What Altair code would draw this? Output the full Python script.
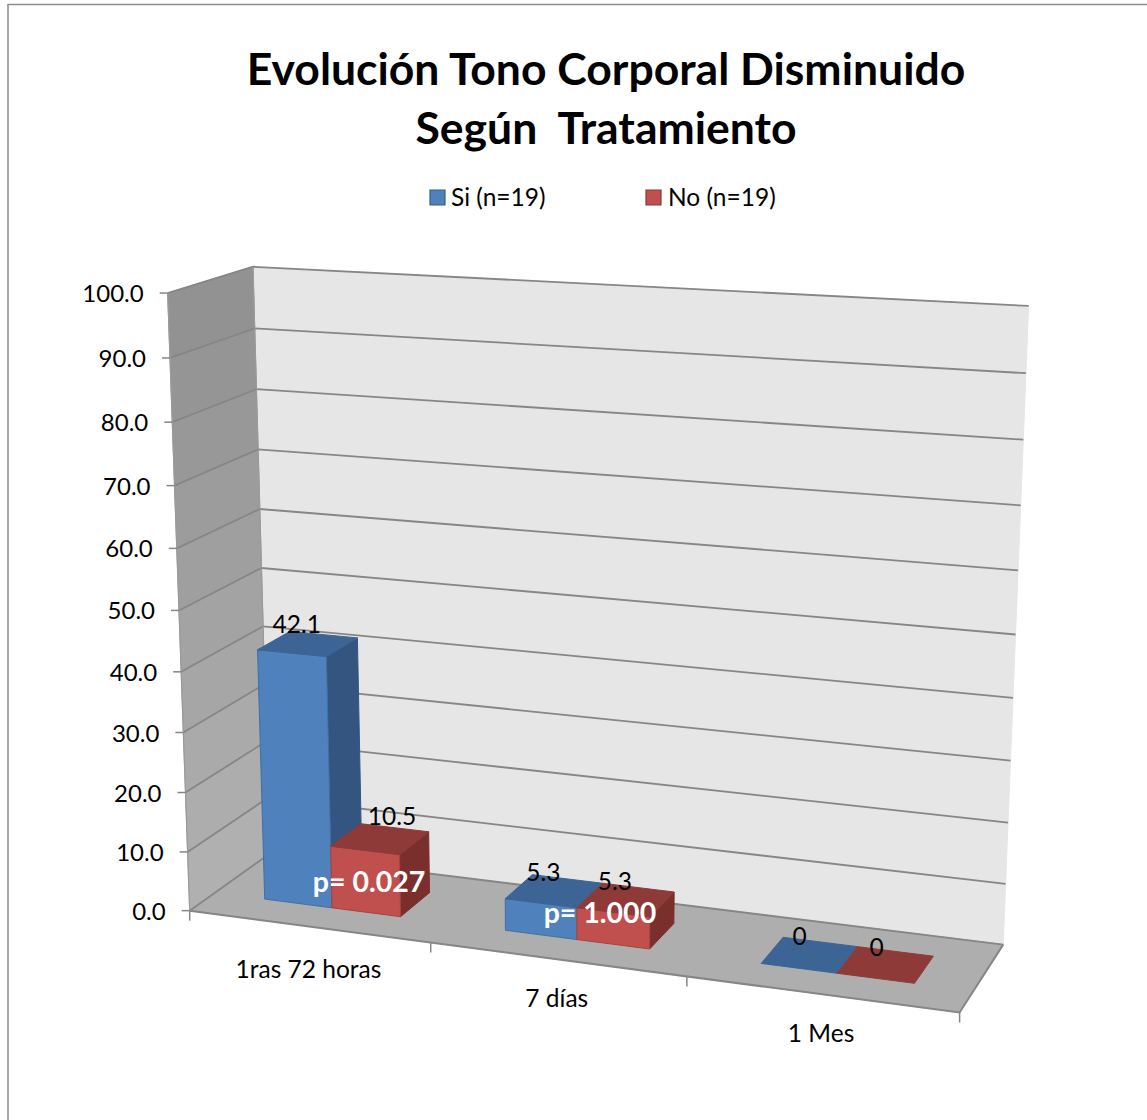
import numpy as np
import pandas as pd
import altair as alt

# Chart content
TITLE_LINES = ["Evolución Tono Corporal Disminuido", "Según\u00a0 Tratamiento"]
CATEGORIES = ["1ras 72 horas", "7 días", "1 Mes"]
SERIES = ["Si (n=19)", "No (n=19)"]
SI_VALUES = [42.1, 5.3, 0]
NO_VALUES = [10.5, 5.3, 0]
SI_LABELS = ["42.1", "5.3", "0"]
NO_LABELS = ["10.5", "5.3", "0"]
P_LABELS = ["p= 0.027", "p= 1.000"]
TICKS = [0, 10, 20, 30, 40, 50, 60, 70, 80, 90, 100]

# Colours
BLUE = dict(front="#4f81bd", top="#3c6494", side="#335580", edge="#41709f", key="#385d8a")
RED = dict(front="#c0504d", top="#8e3a38", side="#7b2f2d", edge="#a8423f", key="#8c3836")
WALL_BACK = "#e6e6e6"
FLOOR = "#aeaeae"
GRID = "#868686"
WALL_TOP_GRAY, WALL_BOTTOM_GRAY = 0x90, 0xb2

# Camera of the 3D box: unit-cube corners and where they land on the page.
# u runs along the categories, v runs front to back, w is value / 100.
CUBE = [(0, 0, 0), (1, 0, 0), (0, 1, 0), (1, 1, 0), (0, 0, 1), (0, 1, 1), (1, 1, 1),
        (0, 0, .5), (0, 1, .5), (1, 1, .5), (1, 1, .9), (1, 1, .1), (0, 1, .9), (0, 0, .1)]
PAGE = [(190.5, 910.5), (959, 1014), (264, 855), (1004, 943), (167, 293), (255.5, 267), (1028, 306),
        (179, 610), (265, 565), (1017, 635), (1026, 374), (1007, 884), (258, 328), (182, 852)]
WEIGHTS = [8, 3, 3, 3, 8, 4, 3, 1, 1, 1, 1, 1, 1, 1]

rows = []
for (a, b, c), (x, y), k in zip(CUBE, PAGE, WEIGHTS):
    rows.append(np.array([a, b, c, 1, 0, 0, 0, 0, -x * a, -x * b, -x * c, -x]) * k)
    rows.append(np.array([0, 0, 0, 0, a, b, c, 1, -y * a, -y * b, -y * c, -y]) * k)
CAMERA = np.linalg.svd(np.array(rows))[2][-1].reshape(3, 4)


def project(u, v, w):
    h = CAMERA @ np.array([u, v, w, 1.0])
    return float(h[0] / h[2]), float(h[1] / h[2])


# Bar layout in cube units: gap width 150 % of a bar, bars in the middle of the depth
BAR_W = (1 / 3) / 3.5
V0, V1 = 0.305, 0.71

polys, lines, texts = [], [], []


def add_poly(name, pts, fill, stroke=None):
    corners = [project(*p) for p in pts]
    for i, (x, y) in enumerate(corners + corners[:1]):
        polys.append(dict(poly=name, i=i, x=x, y=y, fill=fill, stroke=stroke or fill))


def add_line(name, pts, color=GRID, width=1.8):
    for i, p in enumerate(pts):
        x, y = project(*p)
        lines.append(dict(line=name, i=i, x=x, y=y, color=color, width=width))


def add_text(text, x, y, size=24.5, weight="normal", color="black", align="center"):
    texts.append(dict(text=text, x=x, y=y, size=size, weight=weight, color=color, align=align))


# Walls and floor
add_poly("wall-back", [(0, 1, 0), (1, 1, 0), (1, 1, 1), (0, 1, 1)], WALL_BACK)
for k in range(10):
    level = WALL_BOTTOM_GRAY + (WALL_TOP_GRAY - WALL_BOTTOM_GRAY) * (k + 0.5) / 10
    gray = "#%02x%02x%02x" % ((round(level),) * 3)
    add_poly(f"wall-left-{k:02d}", [(0, 0, k / 10), (0, 1, k / 10), (0, 1, (k + 1) / 10), (0, 0, (k + 1) / 10)], gray)
add_poly("floor", [(0, 0, 0), (1, 0, 0), (1, 1, 0), (0, 1, 0)], FLOOR)

# Gridlines, box edges, tick marks
for t in TICKS:
    add_line(f"grid-{t}", [(0, 0, t / 100), (0, 1, t / 100), (1, 1, t / 100)])
add_line("edge-front", [(0, 0, 0), (1, 0, 0), (1, 1, 0)], width=2)
add_line("edge-left", [(0, 0, 0), (0, 0, 1)], color="#9a9a9a", width=1.2)
add_line("edge-back", [(0, 1, 0), (0, 1, 1)], color="#9a9a9a", width=1.2)

TICK_LEN = 8
tick_rows = []
for t in TICKS:
    x, y = project(0, 0, t / 100)
    tick_rows.append(dict(x=x - TICK_LEN, y=y, x2=x, y2=y))
    add_text(f"{t:.1f}", x - 24, y + 2, size=24, align="right")
for k in range(4):
    x, y = project(k / 3, 0, 0)
    tick_rows.append(dict(x=x, y=y, x2=x, y2=y + 10))


def add_bar(name, u0, value, pal):
    u1, w = u0 + BAR_W, value / 100
    if value > 0:
        add_poly(name + "-side", [(u1, V0, 0), (u1, V1, 0), (u1, V1, w), (u1, V0, w)], pal["side"])
        add_poly(name + "-front", [(u0, V0, 0), (u1, V0, 0), (u1, V0, w), (u0, V0, w)], pal["front"], pal["edge"])
    add_poly(name + "-top", [(u0, V0, w), (u1, V0, w), (u1, V1, w), (u0, V1, w)], pal["top"])


# Offsets of the value labels from the middle of each bar top
SI_NUDGE = [(-11, -18), (-11, -17), (-10, -17)]
NO_NUDGE = [(12, -21), (-11, -17), (-9, -16)]
P_NUDGE = [(37, -25), (23, -26)]
CATEGORY_DROP = [45, 41, 41]

for i, cat in enumerate(CATEGORIES):
    centre = (i + 0.5) / 3
    add_bar(f"bar{i}-si", centre - BAR_W, SI_VALUES[i], BLUE)
    add_bar(f"bar{i}-no", centre, NO_VALUES[i], RED)
    for u0, value, lab, (dx, dy) in [(centre - BAR_W, SI_VALUES[i], SI_LABELS[i], SI_NUDGE[i]),
                                     (centre, NO_VALUES[i], NO_LABELS[i], NO_NUDGE[i])]:
        x, y = project(u0 + BAR_W / 2, (V0 + V1) / 2, value / 100)
        add_text(lab, x + dx, y + dy)
    x, y = project(centre, 0, 0)
    add_text(cat, x, y + CATEGORY_DROP[i])
    if i < len(P_LABELS):
        x, y = project(centre, V0, 0)
        add_text(P_LABELS[i], x + P_NUDGE[i][0], y + P_NUDGE[i][1], size=28.5, weight="bold", color="white")

# Title and legend
add_text(TITLE_LINES[0], 606, 72, size=44.5, weight="bold")
add_text(TITLE_LINES[1], 606, 131, size=44.5, weight="bold")
LEGEND_KEYS = [(437.5, BLUE), (653.5, RED)]
LEGEND_TEXT_X = [451, 668]
legend_rows = []
for name, (kx, pal), tx in zip(SERIES, LEGEND_KEYS, LEGEND_TEXT_X):
    legend_rows.append(dict(x=kx, y=197.5, fill=pal["front"], stroke=pal["key"]))
    add_text(name, tx, 199, align="left")

# Everything is placed on page-sized linear scales
X = alt.X("x:Q", scale=alt.Scale(domain=[0, 1147], range=[0, 1147], nice=False, zero=False), axis=None)
Y = alt.Y("y:Q", scale=alt.Scale(domain=[0, 1120], range=[0, 1120], nice=False, zero=False), axis=None)

frame = alt.Chart(pd.DataFrame(dict(line=["f"] * 3, i=[0, 1, 2], x=[8, 8, 1147], y=[1120, 4.5, 4.5]))).mark_line(
    color="#8c8c8c", strokeWidth=1.5).encode(x=X, y=Y, order="i:Q", detail="line:N")


def shape_layer(df):
    return alt.Chart(df).mark_line(strokeWidth=1).encode(
        x=X, y=Y, order="i:Q", detail="poly:N",
        fill=alt.Fill("fill:N", scale=None), stroke=alt.Stroke("stroke:N", scale=None))


# Bars go above the grid, so the box and the bars are separate layers
poly_df = pd.DataFrame(polys)
is_bar = poly_df["poly"].str.startswith("bar")
box_layer = shape_layer(poly_df[~is_bar])
bar_layer = shape_layer(poly_df[is_bar])

line_layer = alt.Chart(pd.DataFrame(lines)).mark_line().encode(
    x=X, y=Y, order="i:Q", detail="line:N",
    stroke=alt.Stroke("color:N", scale=None), strokeWidth=alt.StrokeWidth("width:Q", scale=None))

tick_layer = alt.Chart(pd.DataFrame(tick_rows)).mark_rule(color=GRID, strokeWidth=1.5).encode(
    x=X, y=Y, x2="x2:Q", y2="y2:Q")

key_layer = alt.Chart(pd.DataFrame(legend_rows)).mark_point(
    shape="square", size=225, filled=True, strokeWidth=1.2, opacity=1).encode(
    x=X, y=Y, fill=alt.Fill("fill:N", scale=None), stroke=alt.Stroke("stroke:N", scale=None))

text_df = pd.DataFrame(texts)


def text_layer(df, align, weight):
    return alt.Chart(df).mark_text(font="Lato", baseline="middle", align=align, fontWeight=weight).encode(
        x=X, y=Y, text="text:N",
        size=alt.Size("size:Q", scale=None),
        color=alt.Color("color:N", scale=None))


regular_center = text_layer(text_df[(text_df["align"] == "center") & (text_df["weight"] == "normal")], "center", "normal")
bold_center = text_layer(text_df[(text_df["align"] == "center") & (text_df["weight"] == "bold")], "center", "bold")
left = text_layer(text_df[text_df["align"] == "left"], "left", "normal")
right = text_layer(text_df[text_df["align"] == "right"], "right", "normal")

chart = alt.layer(
    frame, box_layer, line_layer, tick_layer, bar_layer, key_layer,
    regular_center, bold_center, left, right
).properties(width=1147, height=1120, padding=0, autosize=alt.AutoSizeParams(type="none"),
             background="white").configure_view(stroke=None)

chart.save("out.html", embed_options={"renderer": "svg", "actions": False})
